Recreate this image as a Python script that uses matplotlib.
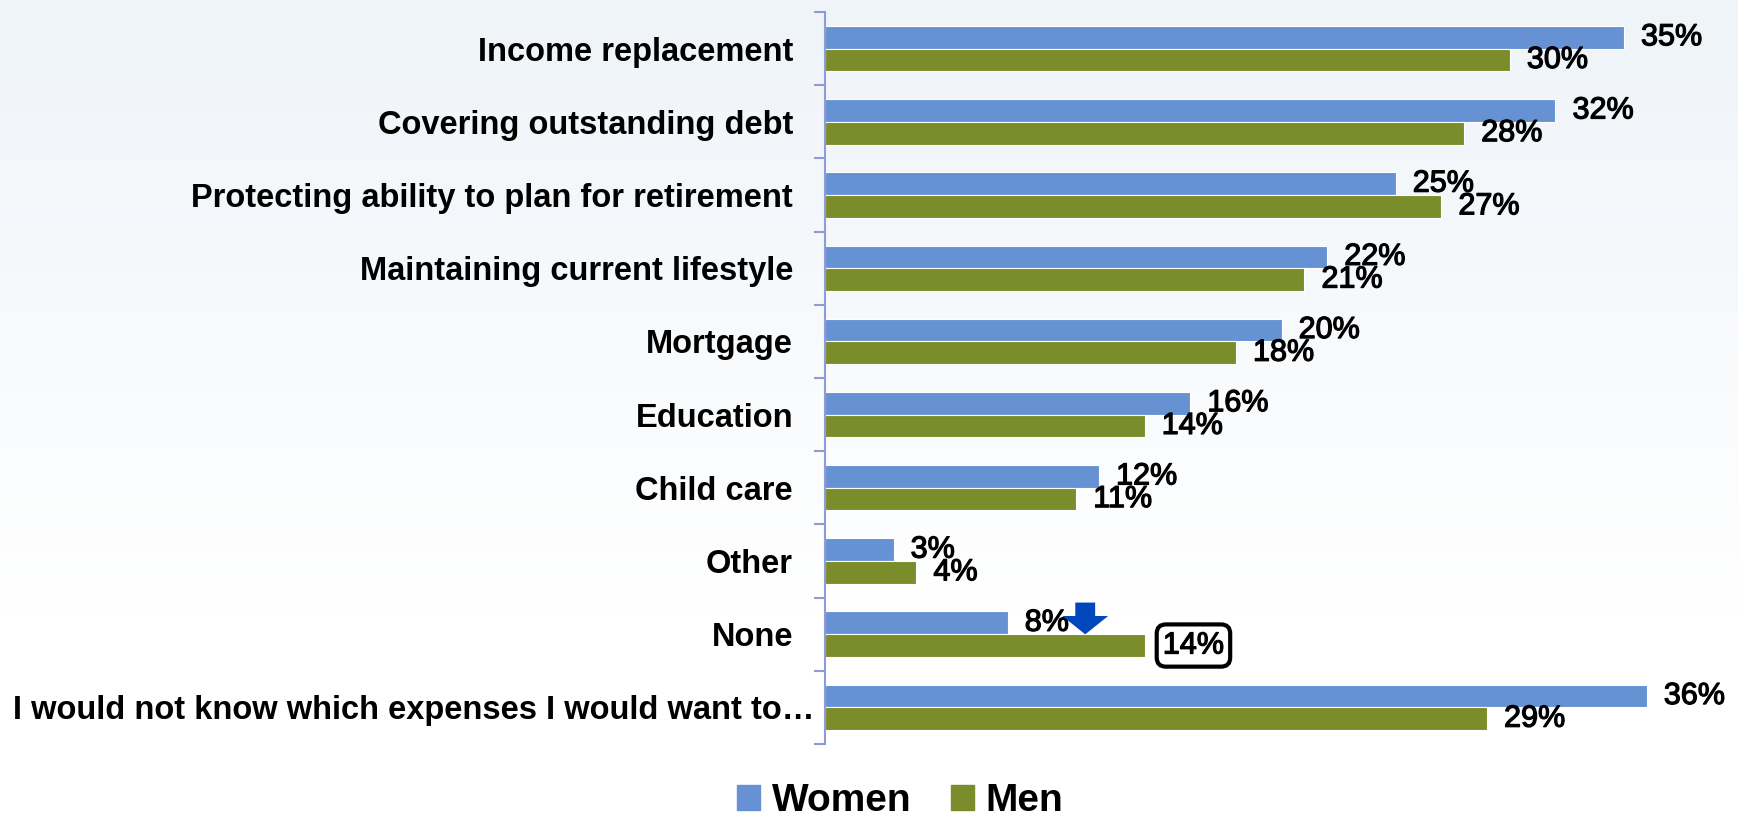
import numpy as np
import matplotlib
matplotlib.use("Agg")
import matplotlib.pyplot as plt
import matplotlib.patheffects as pe
from matplotlib.patches import Patch
from matplotlib.transforms import ScaledTranslation

# survey data: what life insurance would be used for
categories = [
    "Income replacement",
    "Covering outstanding debt",
    "Protecting ability to plan for retirement",
    "Maintaining current lifestyle",
    "Mortgage",
    "Education",
    "Child care",
    "Other",
    "None",
    "I would not know which expenses I would want to\u2026",
]
women = [35, 32, 25, 22, 20, 16, 12, 3, 8, 36]
men = [30, 28, 27, 21, 18, 14, 11, 4, 14, 29]
highlight = "None"   # men's value gets a boxed label and an arrow

BLUE = "#6692D4"
GREEN = "#7B8C2A"
AXIS = "#8F9BD6"

fig = plt.figure(figsize=(17.38, 8.19), dpi=100)

# soft gradient background, light blue-grey at the top fading to white
bg = fig.add_axes([0, 0, 1, 1], zorder=-10)
top = np.array([0.937, 0.957, 0.976])
fade = np.clip(1 - np.linspace(0, 1, 256) / 0.75, 0, 1)
img = 1 - (1 - top)[None, None, :] * fade[:, None, None] * np.ones((1, 2, 1))
bg.imshow(img, aspect="auto", extent=[0, 1, 0, 1])
bg.axis("off")

ax = fig.add_axes([0.4747, 0.0916, 0.5253, 0.8937])
ax.set_facecolor("none")

y = np.arange(len(categories))
h = 0.31
ax.barh(y - h / 2, women, height=h, color=BLUE, edgecolor="white", linewidth=0.8, label="Women")
ax.barh(y + h / 2, men, height=h, color=GREEN, edgecolor="white", linewidth=0.8, label="Men")

ax.set_xlim(0, 40)
ax.set_ylim(len(categories) - 0.5, -0.5)

# regular weight with a thin outline reads as semi-bold
semibold = [pe.withStroke(linewidth=0.9, foreground="black")]
label_font = dict(fontsize=22, family="Liberation Sans", color="black", path_effects=semibold)
off = 0.75
for i, (w, m) in enumerate(zip(women, men)):
    ax.text(w + off, i - h / 2, f"{w}%", va="center", ha="left", **label_font)
    if categories[i] == highlight:
        ax.text(m + off + 0.05, i + h / 2, f"{m}%", va="center", ha="left", **label_font,
                bbox=dict(boxstyle="round,pad=0.2,rounding_size=0.3", fc="white",
                          ec="black", lw=3))
        # blue down arrow pointing at the men's bar
        ax.annotate("", xy=(m - 2.6, i + 0.04), xytext=(m - 2.6, i - 0.47),
                    arrowprops=dict(arrowstyle="simple,head_length=0.6,head_width=1.5,tail_width=0.65",
                                    mutation_scale=22, color="#0047BB", lw=0))
    else:
        ax.text(m + off, i + h / 2, f"{m}%", va="center", ha="left", **label_font)

# category labels, with ticks between groups
ax.set_yticks(y)
ax.set_yticklabels(categories, fontsize=23.5, fontweight="bold", family="Liberation Sans")
ax.tick_params(axis="y", which="major", length=0, pad=23)
ax.set_yticks(np.arange(-0.5, len(categories)), minor=True)
ax.tick_params(axis="y", which="minor", length=8, width=1.5, color=AXIS)
last = ax.yaxis.get_ticklabels()[-1]
last.set_transform(last.get_transform() + ScaledTranslation(21 / 100, 0, fig.dpi_scale_trans))

ax.set_xticks([])
for s in ["top", "right", "bottom"]:
    ax.spines[s].set_visible(False)
ax.spines["left"].set_color(AXIS)
ax.spines["left"].set_linewidth(1.5)

handles = [Patch(color=BLUE, label="Women"), Patch(color=GREEN, label="Men")]
fig.legend(handles=handles, loc="center", bbox_to_anchor=(0.518, 0.022), ncol=2, frameon=False,
           prop=dict(family="Liberation Sans", size=28, weight="bold"), handlelength=0.6,
           handleheight=0.6, handletextpad=0.3, columnspacing=1.0)

fig.savefig("out.png", dpi=100)
